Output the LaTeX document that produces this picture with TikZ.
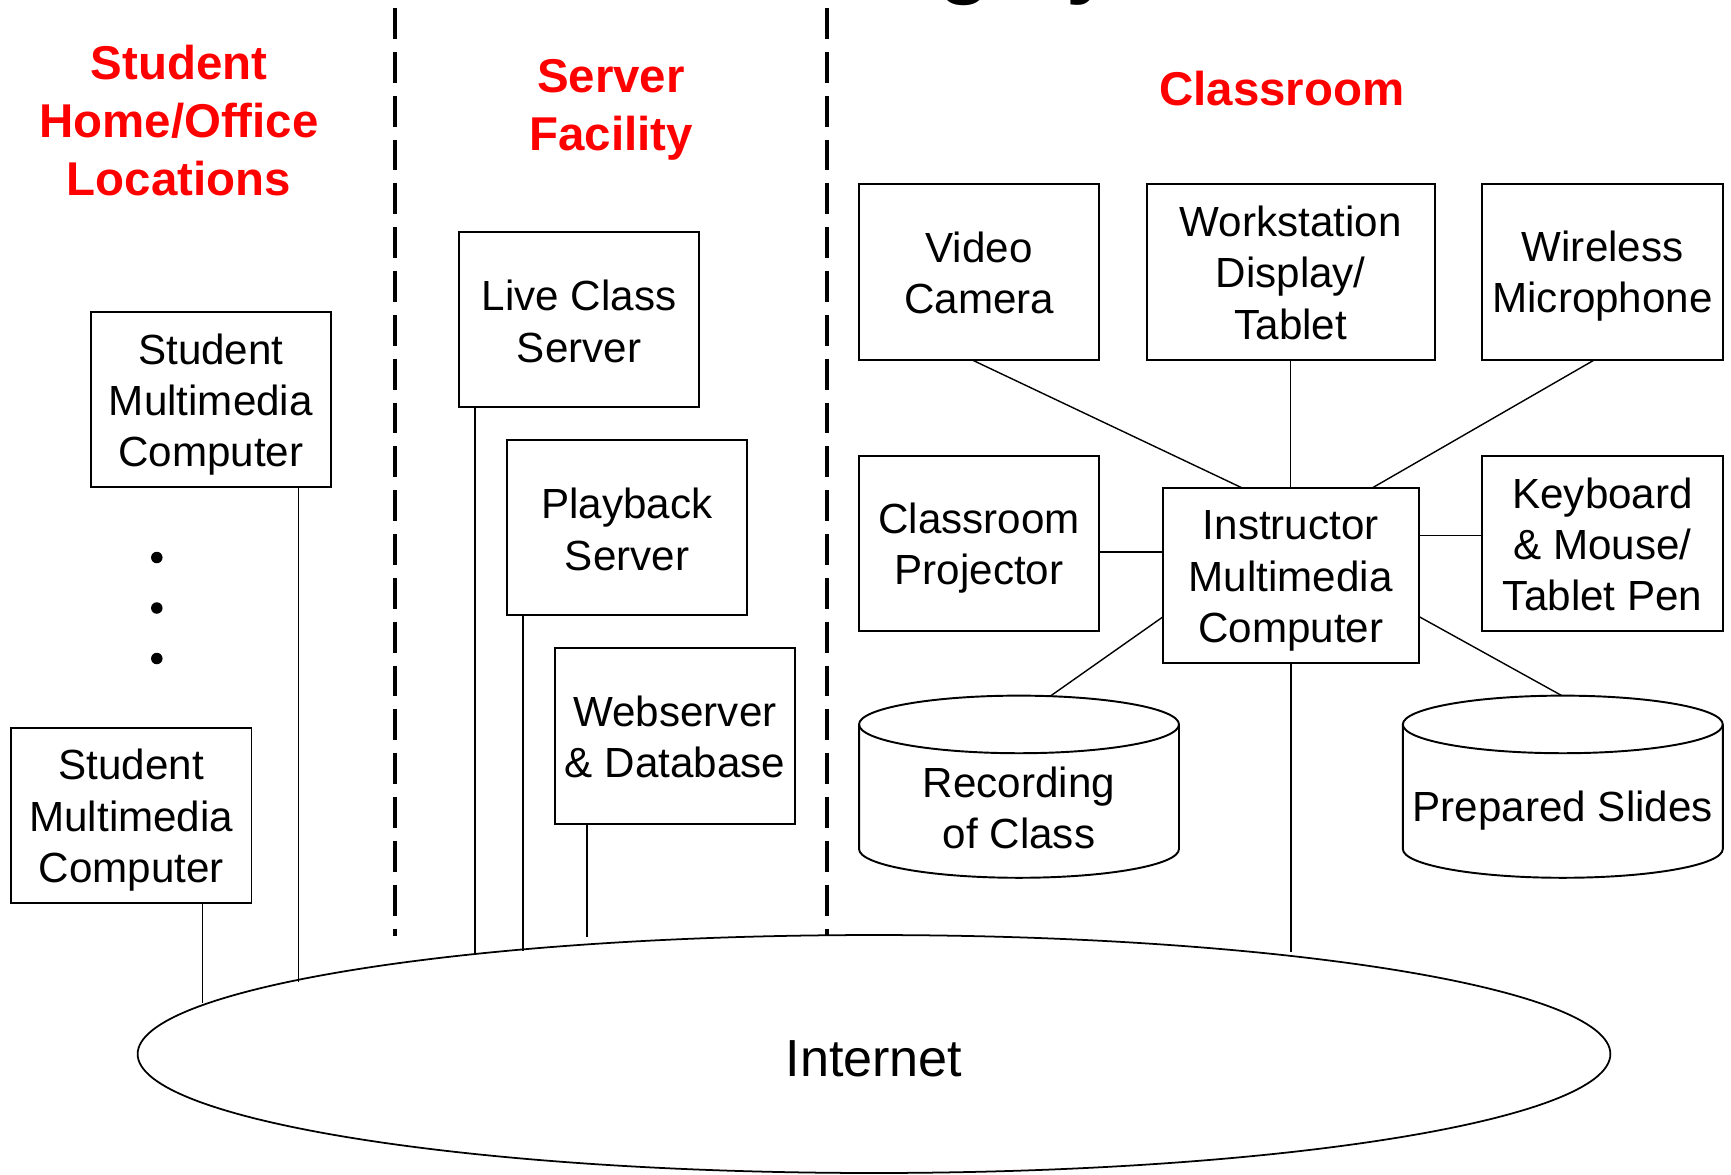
\documentclass[tikz,border=0pt]{standalone}
\usepackage{fontspec}
\setmainfont{Liberation Sans}
\usetikzlibrary{shapes.geometric,calc}
\definecolor{titlered}{RGB}{255,0,0}
\newcommand\drawcyl[1]{%
  \draw[cylline] ($(#1.north west)+(0,28.8)$) -- ($(#1.south west)+(0,-28.8)$)
    arc[start angle=180,end angle=360,x radius=3.2cm,y radius=0.576cm]
    -- ($(#1.north east)+(0,28.8)$);
  \draw[cylline] ($(#1.north)+(0,28.8)$) ellipse[x radius=3.2cm,y radius=0.576cm];}
\begin{document}
\begin{tikzpicture}[x=0.02cm,y=-0.02cm,
  lineframe/.style={execute at begin node={\rule{0pt}{1.1em}},
    execute at end node={\rule[-0.09em]{0pt}{0.09em}}},
  frame/.style={draw, line width=1.1pt, inner sep=0pt, outer sep=0pt,
    minimum width=4.81cm, minimum height=3.51cm},
  btext/.style={inner sep=0pt, align=center,
    font=\fontsize{24}{29.2}\selectfont, lineframe},
  cylbody/.style={draw=none, inner sep=0pt, outer sep=0pt,
    minimum width=6.4cm, minimum height=3.644cm},
  cylline/.style={line width=1.1pt},
  title/.style={text=titlered, inner sep=0pt, align=center,
    font=\fontsize{27}{32.9}\selectfont\bfseries, lineframe},
  conn/.style={line width=0.8pt},
  divider/.style={line width=2pt, dash pattern=on 17.58pt off 7.37pt},
  dotn/.style={circle, fill=black, inner sep=0pt, minimum size=0.23cm},
  frag/.style={inner sep=0pt, font=\fontsize{49}{55}\selectfont\bfseries}]
\useasboundingbox (0,0) rectangle (1731,1174);

% fragments of a cut-off heading
\begin{scope}
\clip (0,0) rectangle (1731,1174);
\node[frag, anchor=base west] (fg) at (938,-13) {g};
\node[frag, anchor=base west] (fy) at (1066,-13) {y};
\end{scope}

% dashed dividers
\coordinate (dA1) at (395,8);  \coordinate (dA2) at (395,936);
\coordinate (dB1) at (827,8);  \coordinate (dB2) at (827,936);
\draw[divider] (dA1) -- (dA2);
\draw[divider] (dB1) -- (dB2);

% titles
\node[title] (tstu) at (179,122.5) {Student\\Home/Office\\Locations};
\node[title] (tsrv) at (611,109.6) {Server\\Facility};
\node[title] (tcls) at (1282,81.5) {Classroom};

% student side
\node[frame] (s1) at (210.9,399.6) {};
\node[btext] (s1t) at ($(s1.center)+(0,5)$) {Student\\Multimedia\\Computer};
\node[frame] (s2) at (131.3,815.6) {};
\node[btext] (s2t) at ($(s2.center)+(0,4.5)$) {Student\\Multimedia\\Computer};
\node[dotn] (d1) at (156.8,557.5) {};
\node[dotn] (d2) at (156.8,608) {};
\node[dotn] (d3) at (156.8,658.5) {};

% servers
\node[frame] (live) at (579,319.6) {};
\node[btext] (livet) at ($(live.center)+(0,3.5)$) {Live Class\\Server};
\node[frame] (play) at (627,527.7) {};
\node[btext] (playt) at ($(play.center)+(0,3.5)$) {Playback\\Server};
\node[frame] (web) at (675,735.8) {};
\node[btext] (webt) at ($(web.center)+(0,3)$) {Webserver\\\& Database};

% classroom
\node[frame] (video) at (979.1,272) {};
\node[btext] (videot) at ($(video.center)+(0,2.5)$) {Video\\Camera};
\node[frame, minimum width=5.76cm] (work) at (1290.7,272) {};
\node[btext] (workt) at ($(work.center)+(0,2.5)$) {Workstation\\Display/\\Tablet};
\node[frame] (mic) at (1602.6,272) {};
\node[btext] (mict) at ($(mic.center)+(0,4)$) {Wireless\\Microphone};
\node[frame] (proj) at (979.1,543.6) {};
\node[btext] (projt) at ($(proj.center)+(0,4.5)$) {Classroom\\Projector};
\node[frame, minimum width=5.12cm] (instr) at (1290.7,575.6) {};
\node[btext] (instrt) at ($(instr.center)+(0,5.5)$) {Instructor\\Multimedia\\Computer};
\node[frame] (kb) at (1602.6,543.6) {};
\node[btext] (kbt) at ($(kb.center)+(0,2.5)$) {Keyboard\\\& Mouse/\\Tablet Pen};

\node[cylbody] (rec) at (1019,786.7) {};
\drawcyl{rec}
\node[btext] (rect) at ($(rec.center)+(0,23)$) {Recording\\of Class};
\node[cylbody] (slides) at (1562.8,786.7) {};
\drawcyl{slides}
\node[btext] (slidest) at ($(slides.center)+(0,16)$) {Prepared Slides};

% internet
\node[draw, ellipse, line width=1pt, inner sep=0pt, outer sep=0pt,
  minimum width=29.46cm, minimum height=4.76cm,
  font=\fontsize{29.7}{35}\selectfont,
  execute at begin node={\rule{0pt}{0.95em}},
  execute at end node={\rule[-0.07em]{0pt}{0.07em}}] (net) at (874,1054) {Internet};

% classroom connectors
\draw[conn] ($(video.south west)+(112.8,0)$) -- ($(instr.north west)+(79.3,0)$);
\draw[conn] (work.south) -- (work.south |- instr.north);
\draw[conn] ($(mic.south west)+(112.3,0)$) -- ($(instr.north west)+(209.6,0)$);
\draw[conn] ($(proj.east)+(0,8.2)$) coordinate (pe) -- (pe -| instr.west);
\draw[conn] ($(kb.west)+(0,-7.9)$) coordinate (ke) -- (ke -| instr.east);
\draw[conn] ($(instr.west)+(0,41.4)$) -- ($(rec.north)+(32,0)$);
\draw[conn] ($(instr.east)+(0,40.8)$) -- ($(slides.north)+(-1,0)$);

% links to the internet
\coordinate (e1) at (202.5,1003);
\coordinate (e2) at (298.3,982);
\coordinate (e3) at (475,953);
\coordinate (e4) at (523,951);
\coordinate (e5) at (587,937);
\coordinate (e6) at (1291,952);
\draw[conn] (s2.south -| e1) -- (e1);
\draw[conn] (s1.south -| e2) -- (e2);
\draw[conn] (live.south -| e3) -- (e3);
\draw[conn] (play.south -| e4) -- (e4);
\draw[conn] (web.south -| e5) -- (e5);
\draw[conn] (instr.south -| e6) -- (e6);
\end{tikzpicture}
\end{document}
